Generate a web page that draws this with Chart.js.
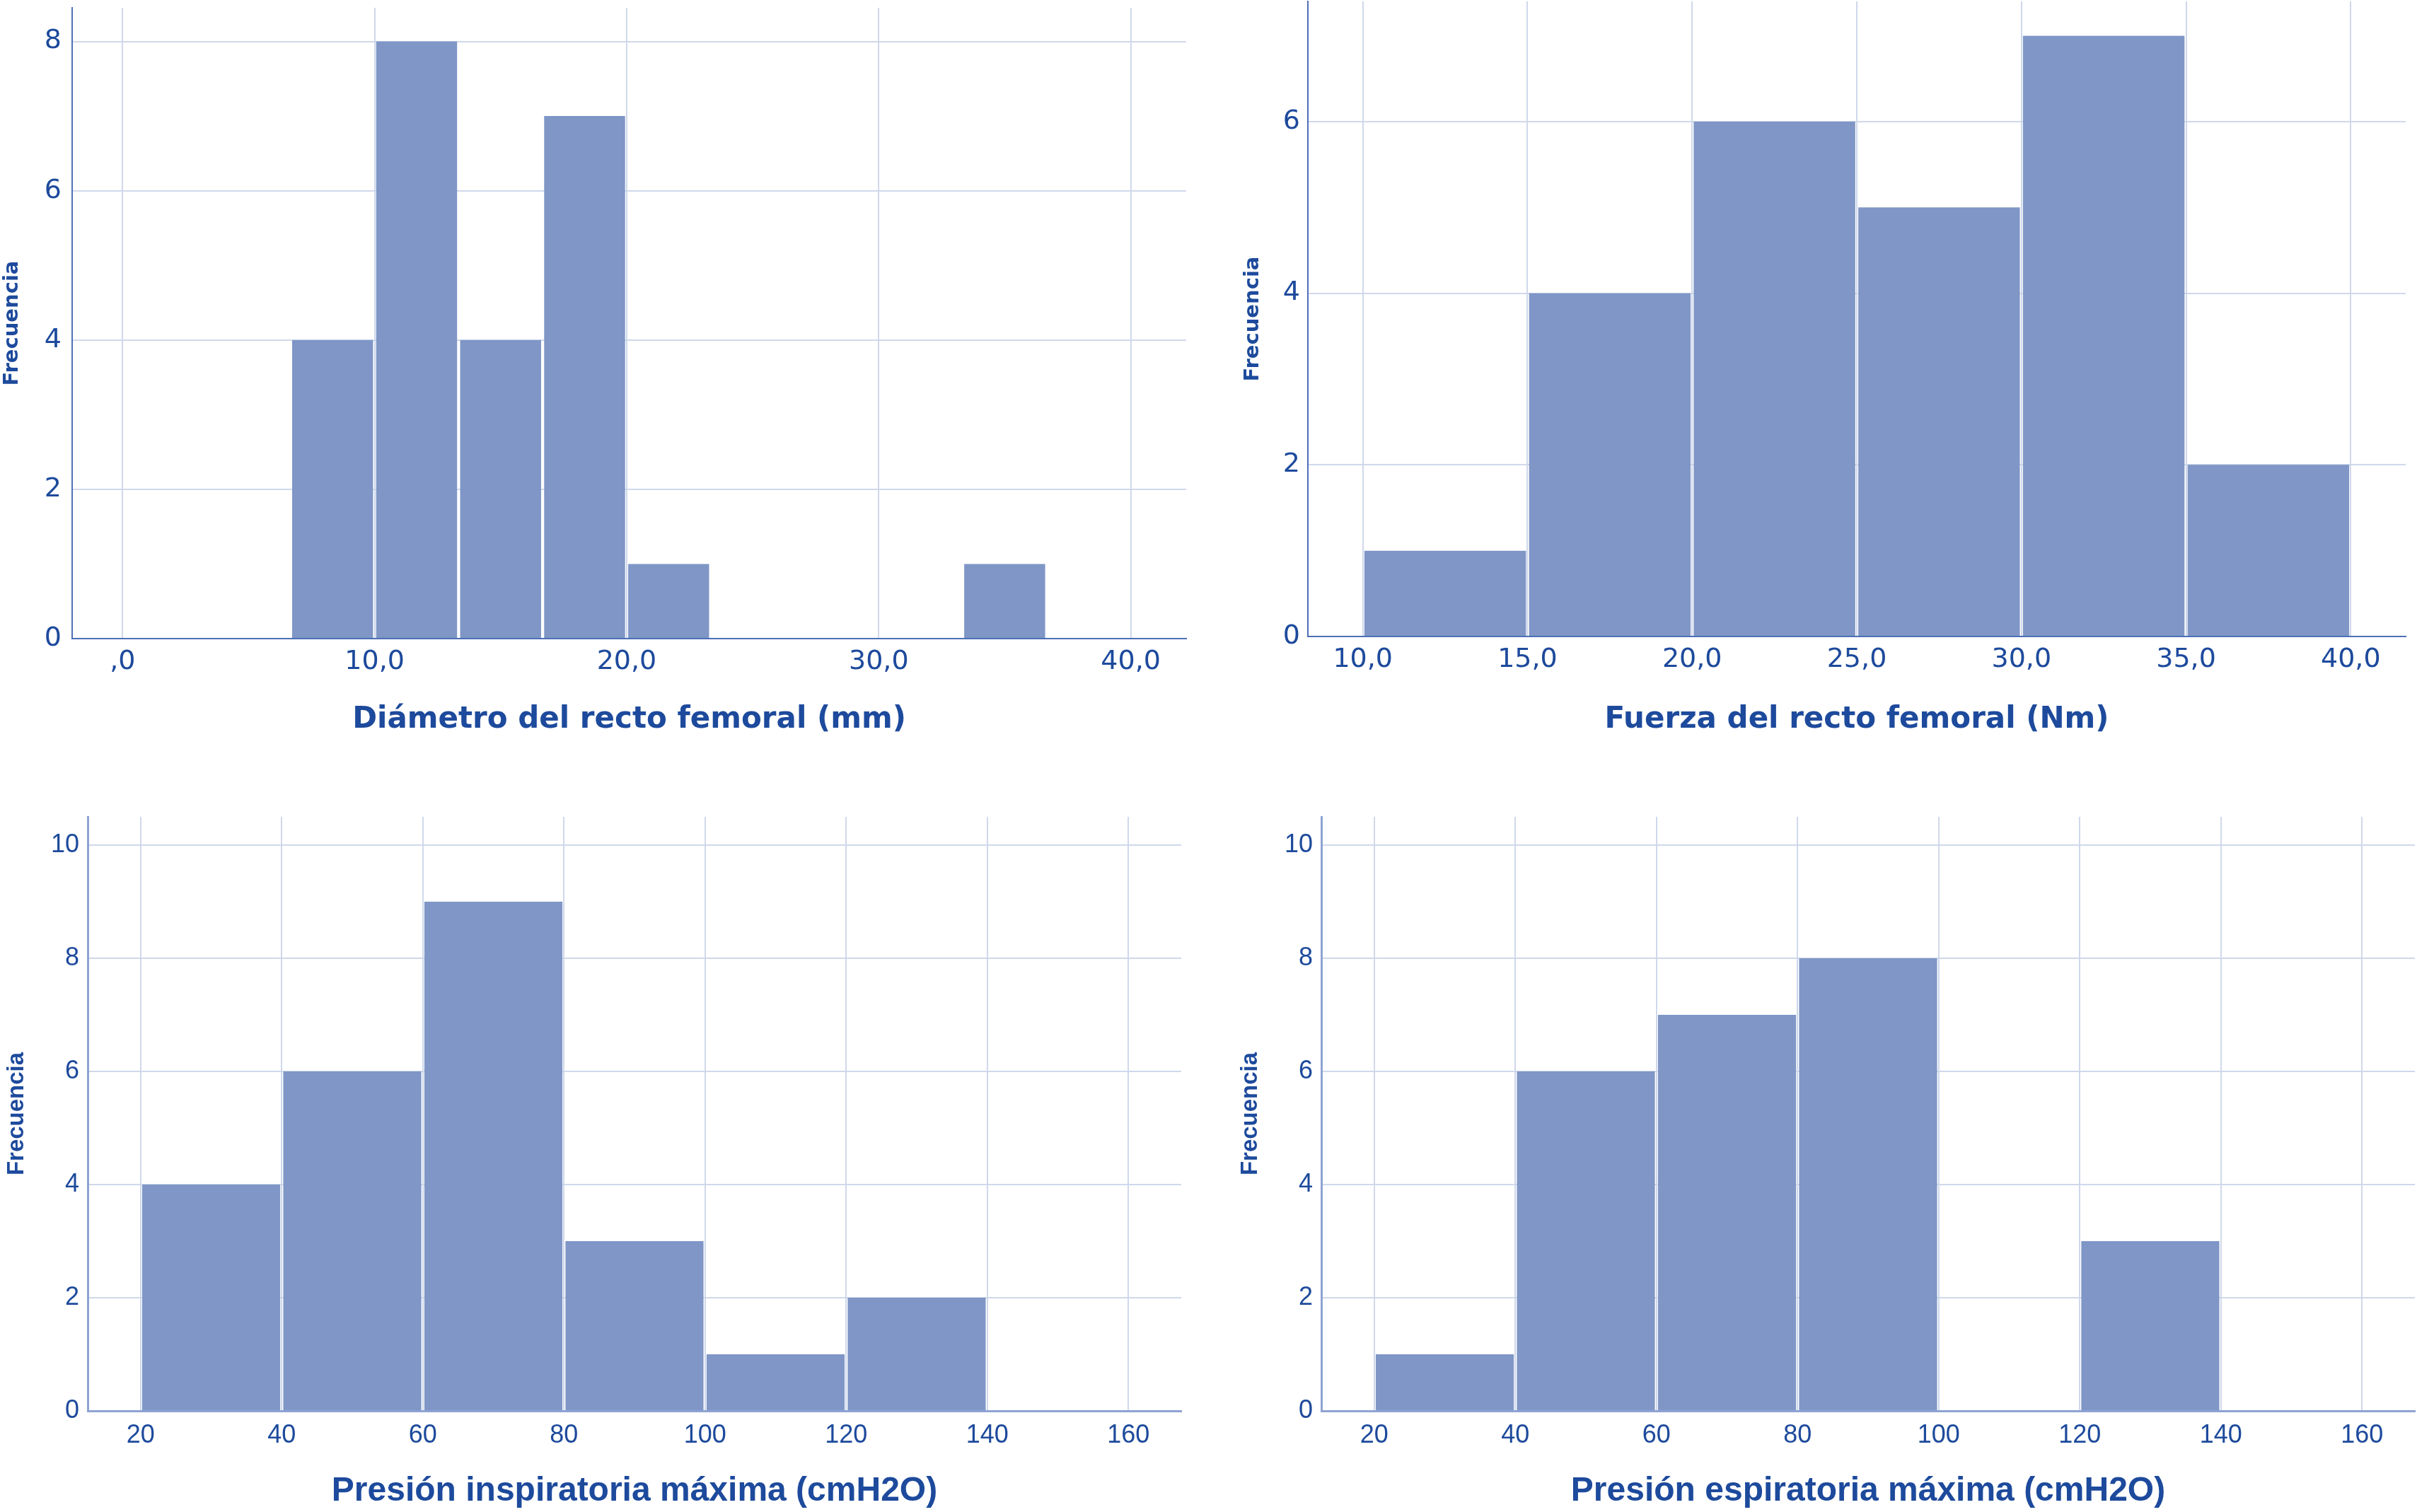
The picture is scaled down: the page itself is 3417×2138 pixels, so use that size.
<!DOCTYPE html>
<html>
<head>
<meta charset="utf-8">
<script src="https://cdn.jsdelivr.net/npm/chart.js@4.4.0/dist/chart.umd.min.js"></script>
<style>
  html, body { margin: 0; padding: 0; background: #fff; }
  body { width: 3417px; height: 2138px; position: relative; overflow: hidden; }
  canvas { position: absolute; }
</style>
</head>
<body>
<canvas id="c1" width="1700" height="1070" style="left:0;top:0"></canvas>
<canvas id="c2" width="1677" height="1070" style="left:1740px;top:0"></canvas>
<canvas id="c3" width="1700" height="1008" style="left:0;top:1130px"></canvas>
<canvas id="c4" width="1677" height="1008" style="left:1740px;top:1130px"></canvas>
<script>
// histogram 1: diametro del recto femoral (mm)
var diamBinStart = 6.667;
var diamBinWidth = 3.333;
var diamCounts = [4, 8, 4, 7, 1, 0, 0, 0, 1];
var diamTicks = [0, 10, 20, 30, 40];
var diamTickLabels = [',0', '10,0', '20,0', '30,0', '40,0'];

// histogram 2: fuerza del recto femoral (Nm)
var fuerzaBinStart = 10;
var fuerzaBinWidth = 5;
var fuerzaCounts = [1, 4, 6, 5, 7, 2];
var fuerzaTicks = [10, 15, 20, 25, 30, 35, 40];
var fuerzaTickLabels = ['10,0', '15,0', '20,0', '25,0', '30,0', '35,0', '40,0'];

// histogram 3: presion inspiratoria maxima
var pimBinStart = 20;
var pimBinWidth = 20;
var pimCounts = [4, 6, 9, 3, 1, 2];

// histogram 4: presion espiratoria maxima
var pemBinStart = 20;
var pemBinWidth = 20;
var pemCounts = [1, 6, 7, 8, 0, 3];

var presTicks = [20, 40, 60, 80, 100, 120, 140, 160];
var presTickLabels = ['20', '40', '60', '80', '100', '120', '140', '160'];

var yTicksA = [0, 2, 4, 6, 8];
var yTicksB = [0, 2, 4, 6, 8, 10];

var TEXT = '#1d4a9c';
var BAR = '#7f96c6';
var GRID = '#cfd8eb';

function binPoints (start, width, counts) {
  var pts = [];
  for (var i = 0; i < counts.length; i++) {
    pts.push({ x: start + width * (i + 0.5), y: counts[i] });
  }
  return pts;
}

function makeHist (id, cfg) {
  var ctx = document.getElementById(id);
  return new Chart(ctx, {
    type: 'bar',
    data: {
      datasets: [{
        data: binPoints(cfg.start, cfg.width, cfg.counts),
        backgroundColor: BAR,
        borderColor: 'rgba(255,255,255,0)',
        borderWidth: { left: 2.5, right: 2.5, top: 0, bottom: 0 },
        borderSkipped: false,
        barPercentage: 1,
        categoryPercentage: 1
      }]
    },
    options: {
      responsive: false,
      animation: false,
      devicePixelRatio: 1,
      layout: { padding: cfg.pad },
      plugins: { legend: { display: false }, tooltip: { enabled: false } },
      scales: {
        x: {
          type: 'linear',
          offset: false,
          min: cfg.xMin,
          max: cfg.xMax,
          afterBuildTicks: function (s) { s.ticks = cfg.xTicks.map(function (v) { return { value: v }; }); },
          afterFit: function (s) {
            s.height = cfg.xHeight;
            s.paddingLeft = 0;
            s.paddingRight = 0;
          },
          grid: { color: GRID, lineWidth: 2, drawTicks: false, offset: false },
          border: { color: cfg.axisColor, width: cfg.axisWidth },
          ticks: {
            color: TEXT,
            padding: cfg.xTickPad,
            maxRotation: 0,
            autoSkip: false,
            font: { family: cfg.font, size: cfg.tickSize },
            callback: function (v, i) { return cfg.xLabels[i]; }
          },
          title: {
            display: true,
            text: cfg.title,
            color: TEXT,
            font: { family: cfg.font, size: cfg.titleSize, weight: 'bold' },
            padding: { top: 0, bottom: cfg.titlePad }
          }
        },
        y: {
          min: 0,
          max: cfg.yMax,
          afterBuildTicks: function (s) { s.ticks = cfg.yTicks.map(function (v) { return { value: v }; }); },
          afterFit: function (s) {
            s.width = cfg.yWidth;
            s.paddingTop = 0;
            s.paddingBottom = 0;
          },
          grid: { color: GRID, lineWidth: 2, drawTicks: false },
          border: { color: cfg.axisColor, width: cfg.axisWidth },
          ticks: {
            color: TEXT,
            padding: cfg.yTickPad,
            font: { family: cfg.font, size: cfg.tickSize },
            callback: function (v) { return String(v); }
          },
          title: {
            display: true,
            text: 'Frecuencia',
            color: TEXT,
            font: { family: cfg.font, size: cfg.yTitleSize, weight: 'bold' },
            padding: { top: cfg.yTitlePad, bottom: 0 }
          }
        }
      }
    }
  });
}

var TOPFONT = "'DejaVu Sans', sans-serif";
var BOTFONT = "'Liberation Sans', Arial, sans-serif";

makeHist('c1', {
  start: diamBinStart, width: diamBinWidth, counts: diamCounts,
  xMin: -2, xMax: 42.2, xTicks: diamTicks, xLabels: diamTickLabels,
  yMax: 8.45, yTicks: yTicksA,
  pad: { top: 11, right: 23, left: 0, bottom: 0 },
  xHeight: 167, yWidth: 102, xTickPad: 10, yTickPad: 15,
  font: TOPFONT, tickSize: 38, titleSize: 42, titlePad: 27, yTitleSize: 29, yTitlePad: 0,
  title: 'Diámetro del recto femoral (mm)',
  axisColor: '#4d70b6', axisWidth: 2
});

makeHist('c2', {
  start: fuerzaBinStart, width: fuerzaBinWidth, counts: fuerzaCounts,
  xMin: 8.33, xMax: 41.67, xTicks: fuerzaTicks, xLabels: fuerzaTickLabels,
  yMax: 7.4, yTicks: yTicksA,
  pad: { top: 2, right: 16, left: 0, bottom: 0 },
  xHeight: 170, yWidth: 109, xTickPad: 10, yTickPad: 11,
  font: TOPFONT, tickSize: 38, titleSize: 42, titlePad: 27, yTitleSize: 29, yTitlePad: 14,
  title: 'Fuerza del recto femoral (Nm)',
  axisColor: '#4d70b6', axisWidth: 2
});

makeHist('c3', {
  start: pimBinStart, width: pimBinWidth, counts: pimCounts,
  xMin: 12.5, xMax: 167.5, xTicks: presTicks, xLabels: presTickLabels,
  yMax: 10.5, yTicks: yTicksB,
  pad: { top: 25, right: 30, left: 0, bottom: 0 },
  xHeight: 143, yWidth: 124, xTickPad: 13, yTickPad: 12,
  font: BOTFONT, tickSize: 36, titleSize: 48, titlePad: 0, yTitleSize: 33, yTitlePad: 4,
  title: 'Presión inspiratoria máxima (cmH2O)',
  axisColor: '#8ea3d3', axisWidth: 3
});

makeHist('c4', {
  start: pemBinStart, width: pemBinWidth, counts: pemCounts,
  xMin: 12.5, xMax: 167.5, xTicks: presTicks, xLabels: presTickLabels,
  yMax: 10.5, yTicks: yTicksB,
  pad: { top: 25, right: 3, left: 0, bottom: 0 },
  xHeight: 143, yWidth: 128, xTickPad: 13, yTickPad: 12,
  font: BOTFONT, tickSize: 36, titleSize: 48, titlePad: 0, yTitleSize: 33, yTitlePad: 8,
  title: 'Presión espiratoria máxima (cmH2O)',
  axisColor: '#8ea3d3', axisWidth: 3
});
</script>
</body>
</html>
